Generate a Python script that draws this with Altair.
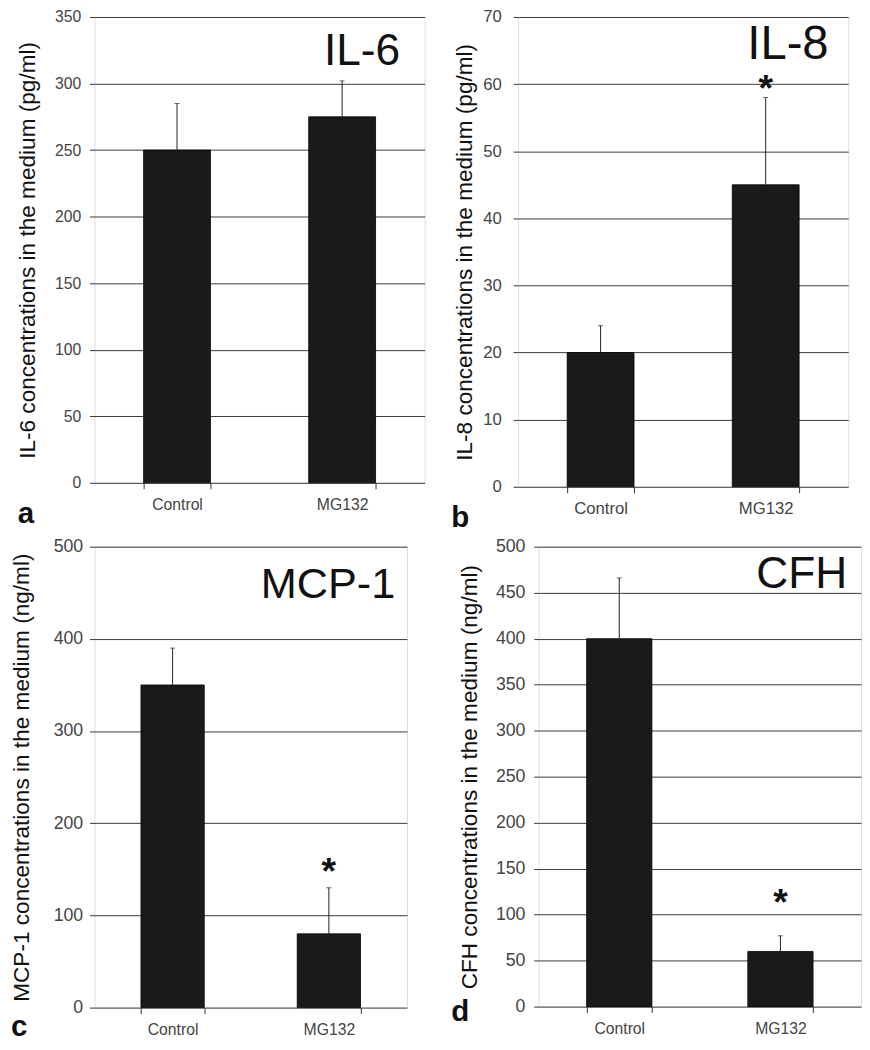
import altair as alt
import pandas as pd

# ---- data ----
groups = ["Control", "MG132"]

il6_mean = [250, 275]
il6_upper = [285, 302]
il6_star = []

il8_mean = [20, 45]
il8_upper = [24, 58]
il8_star = [60]

mcp1_mean = [350, 80]
mcp1_upper = [390, 130]
mcp1_star = [152]

cfh_mean = [400, 60]
cfh_upper = [466, 77]
cfh_star = [118]

FONT = "Liberation Sans"


def panel(mean, upper, star, ymax, ystep, ytitle, big, letter, w, h, title_x,
          ylab_fs, ylab_pad, xlab_fs, big_fs, big_inset, big_base, let_dx, let_dy):
    df = pd.DataFrame({"group": groups, "mean": mean, "upper": upper})
    base = alt.Chart(df)
    xenc = alt.X(
        "group:N", sort=groups,
        scale=alt.Scale(paddingInner=0.595, paddingOuter=0.2975),
        axis=alt.Axis(title=None, labelAngle=0, labelFont=FONT, labelFontSize=xlab_fs,
                      labelColor="#444", labelPadding=8, tickBand="extent", ticks=True,
                      tickSize=6, tickColor="#333", domain=False, grid=False),
    )
    yenc = alt.Y(
        "mean:Q",
        scale=alt.Scale(domain=[0, ymax], nice=False, zero=True),
        axis=alt.Axis(title=ytitle, values=list(range(0, ymax + 1, ystep)), grid=True,
                      gridColor="#3a3a3a", gridWidth=1, domain=False, ticks=True, tickSize=5,
                      tickColor="#333", labelFont=FONT, labelFontSize=ylab_fs, labelColor="#444",
                      labelPadding=ylab_pad, titleFont=FONT, titleFontSize=23,
                      titleFontWeight="normal", titleColor="#111", titleX=title_x,
                      titleBaseline="middle", titleAngle=270),
    )
    bars = base.mark_bar(color="#1a1a1a", stroke="#000", strokeWidth=0.8).encode(x=xenc, y=yenc)
    rules = base.mark_rule(color="#222", strokeWidth=1).encode(
        x=alt.X("group:N", sort=groups), y=alt.Y("mean:Q"), y2="upper:Q")
    caps = base.mark_tick(color="#222", thickness=1, size=5, orient="horizontal").encode(
        x=alt.X("group:N", sort=groups), y=alt.Y("upper:Q"))
    layers = [bars, rules, caps]
    if star:
        sdf = pd.DataFrame({"group": ["MG132"] * len(star), "v": star})
        layers.append(
            alt.Chart(sdf).mark_text(text="*", font=FONT, fontWeight="bold", fontSize=38,
                                     baseline="middle", dy=6, color="#111").encode(
                x=alt.X("group:N", sort=groups), y=alt.Y("v:Q")))
    layers.append(
        alt.Chart(pd.DataFrame({"t": [big]})).mark_text(
            font=FONT, fontSize=big_fs, align="right", baseline="alphabetic", color="#111").encode(
            text="t:N", x=alt.value(w - big_inset), y=alt.value(big_base)))
    layers.append(
        alt.Chart(pd.DataFrame({"t": [letter]})).mark_text(
            font=FONT, fontSize=30, fontWeight="bold", align="left", baseline="alphabetic",
            color="#111").encode(
            text="t:N", x=alt.value(let_dx), y=alt.value(h + let_dy)))
    return alt.layer(*layers).properties(width=w, height=h)


a = panel(il6_mean, il6_upper, il6_star, 350, 50,
          "IL-6 concentrations in the medium (pg/ml)", "IL-6", "a",
          336, 474, -68, 16, 9, 16, 45, 25, 49, -78, 41)
b = panel(il8_mean, il8_upper, il8_star, 70, 10,
          "IL-8 concentrations in the medium (pg/ml)", "IL-8", "b",
          336, 478, -54, 17, 12, 17, 48, 20, 43, -68, 41)
c = panel(mcp1_mean, mcp1_upper, mcp1_star, 500, 100,
          "MCP-1 concentrations in the medium (ng/ml)", "MCP-1", "c",
          318, 469, -74, 18, 7, 16, 44, 12, 52, -85, 29)
d = panel(cfh_mean, cfh_upper, cfh_star, 500, 50,
          "CFH concentrations in the medium (ng/ml)", "CFH", "d",
          328, 468, -70, 18, 9, 16, 45, 14, 42, -89, 15)

chart = alt.concat(
    a, b, c, d, columns=2, align="none", bounds="full",
    spacing={"row": 3, "column": 25},
).properties(
    padding={"left": 2, "top": -10, "right": 0, "bottom": 0}, background="white"
).configure_view(
    stroke="#222", strokeWidth=1
).configure(font=FONT)

chart.save("out.html", embed_options={"renderer": "svg", "actions": False})
